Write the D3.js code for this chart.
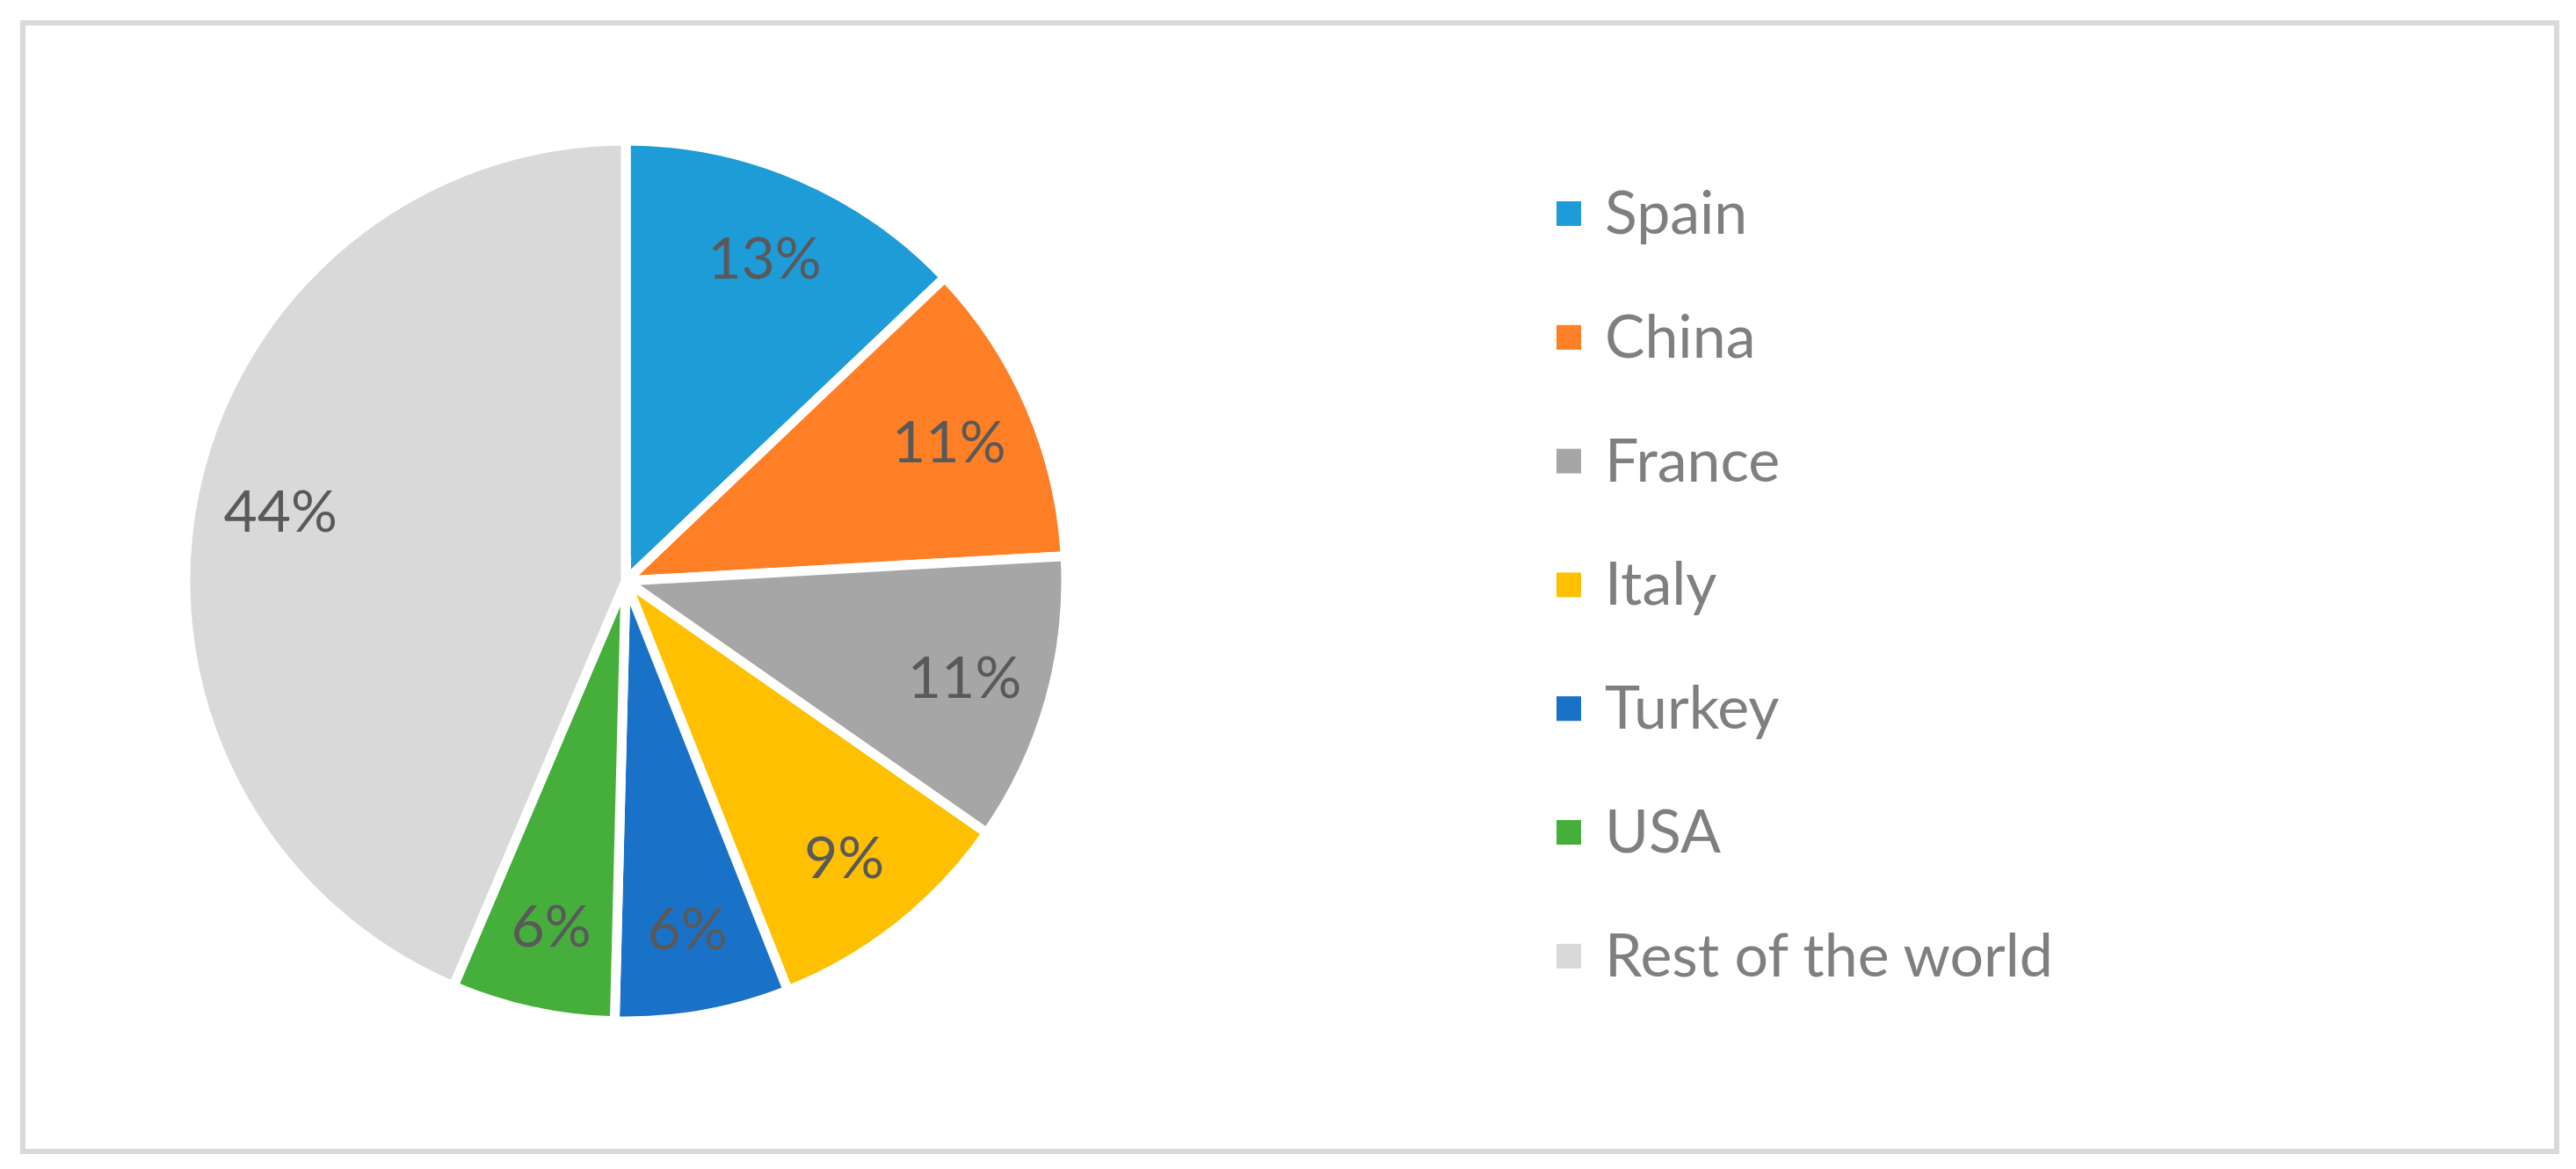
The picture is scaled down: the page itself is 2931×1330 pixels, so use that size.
<!DOCTYPE html>
<html>
<head>
<meta charset="utf-8">
<script src="https://cdn.jsdelivr.net/npm/d3@7"></script>
<style>
  html, body { margin: 0; padding: 0; background: #fff; }
  svg { display: block; }
</style>
</head>
<body>
<div id="chart"></div>
<script>
// shares of the total
var countries = ["Spain", "China", "France", "Italy", "Turkey", "USA", "Rest of the world"];
var shares = [12.9, 11.2, 10.6, 9.3, 6.4, 6.0, 43.6];
var colors = ["#1e9cd7", "#fe7f26", "#a6a6a6", "#fec000", "#1a72c8", "#46af3c", "#d9d9d9"];

var W = 2931, H = 1330;
var cx = 712, cy = 661, R = 501;

var svg = d3.select("#chart").append("svg")
  .attr("width", W)
  .attr("height", H);

// chart area frame
svg.append("rect")
  .attr("x", 26).attr("y", 26)
  .attr("width", 2883).attr("height", 1284)
  .attr("fill", "#fff")
  .attr("stroke", "#d9d9d9")
  .attr("stroke-width", 6);

var data = countries.map(function(c, i) { return {name: c, value: shares[i], color: colors[i]}; });

var pie = d3.pie().sort(null).value(function(d) { return d.value; });
var arc = d3.arc().innerRadius(0).outerRadius(R);
var labelArc = d3.arc().innerRadius(R * 0.8).outerRadius(R * 0.8);

var g = svg.append("g").attr("transform", "translate(" + cx + "," + cy + ")");

var slices = pie(data);

g.selectAll("path.slice")
  .data(slices)
  .enter().append("path")
  .attr("class", "slice")
  .attr("d", arc)
  .attr("fill", function(d) { return d.data.color; })
  .attr("stroke", "#fff")
  .attr("stroke-width", 11)
  .attr("stroke-linejoin", "miter")
  .attr("stroke-miterlimit", 10);

var fmt = d3.format(".0f");
g.selectAll("text.lbl")
  .data(slices)
  .enter().append("text")
  .attr("class", "lbl")
  .attr("x", function(d) { return labelArc.centroid(d)[0]; })
  .attr("y", function(d) { return labelArc.centroid(d)[1] + 24; })
  .attr("text-anchor", "middle")
  .attr("font-family", "Lato, 'Open Sans', sans-serif")
  .attr("font-size", 66)
  .attr("fill", "#595959")
  .text(function(d) { return fmt(d.data.value) + "%"; });

// legend
var lx = 1771, ly0 = 243, step = 140.8, box = 28;
var leg = svg.append("g");
var items = leg.selectAll("g.item")
  .data(data)
  .enter().append("g")
  .attr("class", "item")
  .attr("transform", function(d, i) { return "translate(" + lx + "," + (ly0 + i * step) + ")"; });

items.append("rect")
  .attr("x", 0).attr("y", -box / 2)
  .attr("width", box).attr("height", box)
  .attr("fill", function(d) { return d.color; });

items.append("text")
  .attr("x", 55).attr("y", 23)
  .attr("font-family", "Lato, 'Open Sans', sans-serif")
  .attr("font-size", 68)
  .attr("fill", "#7f7f7f")
  .text(function(d) { return d.name; });
</script>
</body>
</html>
